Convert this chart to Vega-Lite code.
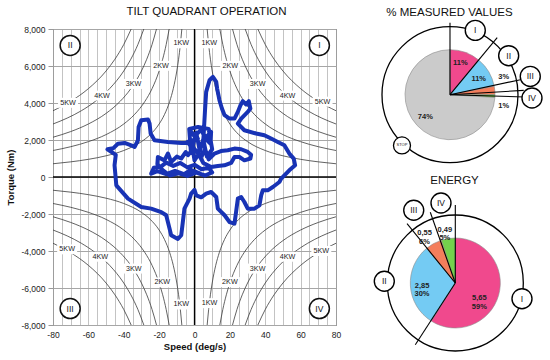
{
  "$schema": "https://vega.github.io/schema/vega-lite/v6.json",
  "background": "white",
  "padding": 5,
  "spacing": 5,
  "config": {
    "view": {"stroke": null},
    "font": "Liberation Sans",
    "title": {"fontSize": 11.5, "fontWeight": "normal", "color": "#111", "font": "Liberation Sans"},
    "axis": {"labelFont": "Liberation Sans", "titleFont": "Liberation Sans", "labelColor": "#222", "titleColor": "#111", "labelOverlap": false, "gridOpacity": 1}
  },
  "datasets": {
    "curves": [
      {"c":"1a","x":7.162,"y":8000},{"c":"1a","x":8,"y":7162},{"c":"1a","x":9,"y":6366},{"c":"1a","x":10,"y":5730},{"c":"1a","x":12,"y":4775},{"c":"1a","x":14,"y":4093},{"c":"1a","x":17,"y":3370},{"c":"1a","x":20,"y":2865},{"c":"1a","x":25,"y":2292},{"c":"1a","x":30,"y":1910},{"c":"1a","x":40,"y":1432},{"c":"1a","x":50,"y":1146},{"c":"1a","x":60,"y":955},{"c":"1a","x":70,"y":819},{"c":"1a","x":80,"y":716},
      {"c":"2a","x":14.32,"y":8000},{"c":"2a","x":16,"y":7162},{"c":"2a","x":18,"y":6366},{"c":"2a","x":20,"y":5730},{"c":"2a","x":24,"y":4775},{"c":"2a","x":28,"y":4093},{"c":"2a","x":34,"y":3370},{"c":"2a","x":40,"y":2865},{"c":"2a","x":50,"y":2292},{"c":"2a","x":60,"y":1910},{"c":"2a","x":70,"y":1637},{"c":"2a","x":80,"y":1432},
      {"c":"3a","x":21.49,"y":8000},{"c":"3a","x":24,"y":7162},{"c":"3a","x":27,"y":6366},{"c":"3a","x":30,"y":5730},{"c":"3a","x":36,"y":4775},{"c":"3a","x":42,"y":4093},{"c":"3a","x":50,"y":3438},{"c":"3a","x":60,"y":2865},{"c":"3a","x":70,"y":2456},{"c":"3a","x":80,"y":2149},
      {"c":"4a","x":28.65,"y":8000},{"c":"4a","x":32,"y":7162},{"c":"4a","x":36,"y":6366},{"c":"4a","x":40,"y":5730},{"c":"4a","x":48,"y":4775},{"c":"4a","x":56,"y":4093},{"c":"4a","x":64,"y":3581},{"c":"4a","x":72,"y":3183},{"c":"4a","x":80,"y":2865},
      {"c":"5a","x":35.81,"y":8000},{"c":"5a","x":40,"y":7162},{"c":"5a","x":45,"y":6366},{"c":"5a","x":50,"y":5730},{"c":"5a","x":60,"y":4775},{"c":"5a","x":70,"y":4093},{"c":"5a","x":80,"y":3581},

      {"c":"1b","x":-7.162,"y":8000},{"c":"1b","x":-8,"y":7162},{"c":"1b","x":-9,"y":6366},{"c":"1b","x":-10,"y":5730},{"c":"1b","x":-12,"y":4775},{"c":"1b","x":-14,"y":4093},{"c":"1b","x":-17,"y":3370},{"c":"1b","x":-20,"y":2865},{"c":"1b","x":-25,"y":2292},{"c":"1b","x":-30,"y":1910},{"c":"1b","x":-40,"y":1432},{"c":"1b","x":-50,"y":1146},{"c":"1b","x":-60,"y":955},{"c":"1b","x":-70,"y":819},{"c":"1b","x":-80,"y":716},
      {"c":"2b","x":-14.32,"y":8000},{"c":"2b","x":-16,"y":7162},{"c":"2b","x":-18,"y":6366},{"c":"2b","x":-20,"y":5730},{"c":"2b","x":-24,"y":4775},{"c":"2b","x":-28,"y":4093},{"c":"2b","x":-34,"y":3370},{"c":"2b","x":-40,"y":2865},{"c":"2b","x":-50,"y":2292},{"c":"2b","x":-60,"y":1910},{"c":"2b","x":-70,"y":1637},{"c":"2b","x":-80,"y":1432},
      {"c":"3b","x":-21.49,"y":8000},{"c":"3b","x":-24,"y":7162},{"c":"3b","x":-27,"y":6366},{"c":"3b","x":-30,"y":5730},{"c":"3b","x":-36,"y":4775},{"c":"3b","x":-42,"y":4093},{"c":"3b","x":-50,"y":3438},{"c":"3b","x":-60,"y":2865},{"c":"3b","x":-70,"y":2456},{"c":"3b","x":-80,"y":2149},
      {"c":"4b","x":-28.65,"y":8000},{"c":"4b","x":-32,"y":7162},{"c":"4b","x":-36,"y":6366},{"c":"4b","x":-40,"y":5730},{"c":"4b","x":-48,"y":4775},{"c":"4b","x":-56,"y":4093},{"c":"4b","x":-64,"y":3581},{"c":"4b","x":-72,"y":3183},{"c":"4b","x":-80,"y":2865},
      {"c":"5b","x":-35.81,"y":8000},{"c":"5b","x":-40,"y":7162},{"c":"5b","x":-45,"y":6366},{"c":"5b","x":-50,"y":5730},{"c":"5b","x":-60,"y":4775},{"c":"5b","x":-70,"y":4093},{"c":"5b","x":-80,"y":3581},

      {"c":"1c","x":-7.162,"y":-8000},{"c":"1c","x":-8,"y":-7162},{"c":"1c","x":-9,"y":-6366},{"c":"1c","x":-10,"y":-5730},{"c":"1c","x":-12,"y":-4775},{"c":"1c","x":-14,"y":-4093},{"c":"1c","x":-17,"y":-3370},{"c":"1c","x":-20,"y":-2865},{"c":"1c","x":-25,"y":-2292},{"c":"1c","x":-30,"y":-1910},{"c":"1c","x":-40,"y":-1432},{"c":"1c","x":-50,"y":-1146},{"c":"1c","x":-60,"y":-955},{"c":"1c","x":-70,"y":-819},{"c":"1c","x":-80,"y":-716},
      {"c":"2c","x":-14.32,"y":-8000},{"c":"2c","x":-16,"y":-7162},{"c":"2c","x":-18,"y":-6366},{"c":"2c","x":-20,"y":-5730},{"c":"2c","x":-24,"y":-4775},{"c":"2c","x":-28,"y":-4093},{"c":"2c","x":-34,"y":-3370},{"c":"2c","x":-40,"y":-2865},{"c":"2c","x":-50,"y":-2292},{"c":"2c","x":-60,"y":-1910},{"c":"2c","x":-70,"y":-1637},{"c":"2c","x":-80,"y":-1432},
      {"c":"3c","x":-21.49,"y":-8000},{"c":"3c","x":-24,"y":-7162},{"c":"3c","x":-27,"y":-6366},{"c":"3c","x":-30,"y":-5730},{"c":"3c","x":-36,"y":-4775},{"c":"3c","x":-42,"y":-4093},{"c":"3c","x":-50,"y":-3438},{"c":"3c","x":-60,"y":-2865},{"c":"3c","x":-70,"y":-2456},{"c":"3c","x":-80,"y":-2149},
      {"c":"4c","x":-28.65,"y":-8000},{"c":"4c","x":-32,"y":-7162},{"c":"4c","x":-36,"y":-6366},{"c":"4c","x":-40,"y":-5730},{"c":"4c","x":-48,"y":-4775},{"c":"4c","x":-56,"y":-4093},{"c":"4c","x":-64,"y":-3581},{"c":"4c","x":-72,"y":-3183},{"c":"4c","x":-80,"y":-2865},
      {"c":"5c","x":-35.81,"y":-8000},{"c":"5c","x":-40,"y":-7162},{"c":"5c","x":-45,"y":-6366},{"c":"5c","x":-50,"y":-5730},{"c":"5c","x":-60,"y":-4775},{"c":"5c","x":-70,"y":-4093},{"c":"5c","x":-80,"y":-3581},

      {"c":"1d","x":7.162,"y":-8000},{"c":"1d","x":8,"y":-7162},{"c":"1d","x":9,"y":-6366},{"c":"1d","x":10,"y":-5730},{"c":"1d","x":12,"y":-4775},{"c":"1d","x":14,"y":-4093},{"c":"1d","x":17,"y":-3370},{"c":"1d","x":20,"y":-2865},{"c":"1d","x":25,"y":-2292},{"c":"1d","x":30,"y":-1910},{"c":"1d","x":40,"y":-1432},{"c":"1d","x":50,"y":-1146},{"c":"1d","x":60,"y":-955},{"c":"1d","x":70,"y":-819},{"c":"1d","x":80,"y":-716},
      {"c":"2d","x":14.32,"y":-8000},{"c":"2d","x":16,"y":-7162},{"c":"2d","x":18,"y":-6366},{"c":"2d","x":20,"y":-5730},{"c":"2d","x":24,"y":-4775},{"c":"2d","x":28,"y":-4093},{"c":"2d","x":34,"y":-3370},{"c":"2d","x":40,"y":-2865},{"c":"2d","x":50,"y":-2292},{"c":"2d","x":60,"y":-1910},{"c":"2d","x":70,"y":-1637},{"c":"2d","x":80,"y":-1432},
      {"c":"3d","x":21.49,"y":-8000},{"c":"3d","x":24,"y":-7162},{"c":"3d","x":27,"y":-6366},{"c":"3d","x":30,"y":-5730},{"c":"3d","x":36,"y":-4775},{"c":"3d","x":42,"y":-4093},{"c":"3d","x":50,"y":-3438},{"c":"3d","x":60,"y":-2865},{"c":"3d","x":70,"y":-2456},{"c":"3d","x":80,"y":-2149},
      {"c":"4d","x":28.65,"y":-8000},{"c":"4d","x":32,"y":-7162},{"c":"4d","x":36,"y":-6366},{"c":"4d","x":40,"y":-5730},{"c":"4d","x":48,"y":-4775},{"c":"4d","x":56,"y":-4093},{"c":"4d","x":64,"y":-3581},{"c":"4d","x":72,"y":-3183},{"c":"4d","x":80,"y":-2865},
      {"c":"5d","x":35.81,"y":-8000},{"c":"5d","x":40,"y":-7162},{"c":"5d","x":45,"y":-6366},{"c":"5d","x":50,"y":-5730},{"c":"5d","x":60,"y":-4775},{"c":"5d","x":70,"y":-4093},{"c":"5d","x":80,"y":-3581}
    ],
    "kwlabels": [
      {"t":"1KW","x":8.4,"y":7230},{"t":"2KW","x":20.2,"y":6010},{"t":"3KW","x":35.7,"y":5030},{"t":"4KW","x":52.6,"y":4400},{"t":"5KW","x":72.4,"y":4070},
      {"t":"1KW","x":-7.5,"y":7230},{"t":"2KW","x":-18.9,"y":6010},{"t":"3KW","x":-34.5,"y":5030},{"t":"4KW","x":-52.3,"y":4400},{"t":"5KW","x":-71.5,"y":4010},
      {"t":"5KW","x":-72,"y":-3910},{"t":"4KW","x":-53.3,"y":-4310},{"t":"3KW","x":-34.3,"y":-4950},{"t":"2KW","x":-18.2,"y":-5700},{"t":"1KW","x":-7.5,"y":-6890},
      {"t":"1KW","x":8.5,"y":-6820},{"t":"2KW","x":20,"y":-5680},{"t":"3KW","x":35.7,"y":-4950},{"t":"4KW","x":52.6,"y":-4310},{"t":"5KW","x":71.7,"y":-4000}
    ],
    "quadrants": [
      {"r":"II","x":-70.3,"y":7110},{"r":"I","x":70.6,"y":7110},{"r":"III","x":-70.3,"y":-7110},{"r":"IV","x":70.6,"y":-7110}
    ],
    "axes0": [
      {"x":0,"y":-8000,"x2":0,"y2":8000},{"x":-80,"y":0,"x2":80,"y2":0}
    ],
    "path": [
      {"i":1,"x":3,"y":200},{"i":2,"x":-2,"y":380},{"i":3,"x":-6,"y":150},{"i":4,"x":-11,"y":330},{"i":5,"x":-16,"y":150},{"i":6,"x":-21,"y":320},{"i":7,"x":-24.5,"y":180},{"i":8,"x":-23,"y":500},{"i":9,"x":-19,"y":560},{"i":10,"x":-16,"y":780},
      {"i":11,"x":-12,"y":600},{"i":12,"x":-8,"y":760},{"i":13,"x":-4,"y":520},{"i":14,"x":0,"y":660},{"i":15,"x":4,"y":420},{"i":16,"x":8,"y":500},{"i":17,"x":10,"y":250},{"i":18,"x":6,"y":80},{"i":19,"x":1,"y":240},{"i":20,"x":-4,"y":60},
      {"i":21,"x":-9,"y":200},{"i":22,"x":-14,"y":80},{"i":23,"x":-18,"y":380},{"i":24,"x":-21,"y":700},{"i":25,"x":-20.7,"y":1080},{"i":26,"x":-17,"y":900},{"i":27,"x":-15,"y":1270},{"i":28,"x":-13.2,"y":810},{"i":29,"x":-10,"y":1100},{"i":30,"x":-7.5,"y":1000},
      {"i":31,"x":-5,"y":1350},{"i":32,"x":-3.7,"y":1180},{"i":33,"x":-1,"y":1500},{"i":34,"x":0,"y":900},{"i":35,"x":2,"y":1200},{"i":36,"x":4,"y":1120},{"i":37,"x":6,"y":1500},{"i":38,"x":8,"y":950},{"i":39,"x":11.3,"y":1270},{"i":40,"x":15,"y":1400},
      {"i":41,"x":18.8,"y":1445},{"i":42,"x":22.6,"y":1535},{"i":43,"x":26.4,"y":1500},{"i":44,"x":30.1,"y":1353},{"i":45,"x":32,"y":1200},{"i":46,"x":31.6,"y":1000},{"i":47,"x":28.2,"y":903},{"i":48,"x":25.4,"y":1082},{"i":49,"x":22.6,"y":1082},{"i":50,"x":20.7,"y":760},
      {"i":51,"x":16.9,"y":630},{"i":52,"x":13.2,"y":595},{"i":53,"x":9.4,"y":540},{"i":54,"x":5,"y":760},{"i":55,"x":2,"y":1300},{"i":56,"x":-1.9,"y":1625},{"i":57,"x":-4,"y":1900},{"i":58,"x":1.9,"y":2078},{"i":59,"x":-2.8,"y":2530},{"i":60,"x":0,"y":2200},
      {"i":61,"x":3.8,"y":2565},{"i":62,"x":6,"y":2100},{"i":63,"x":9.4,"y":2435},{"i":64,"x":9,"y":1800},{"i":65,"x":7,"y":2000},{"i":66,"x":5.6,"y":2256},
      {"i":66.1,"x":3,"y":1400},{"i":66.2,"x":1,"y":2400},{"i":66.3,"x":-2,"y":1300},{"i":66.4,"x":-3,"y":2600},{"i":66.5,"x":2,"y":2700},{"i":66.6,"x":8,"y":2600},{"i":66.7,"x":10,"y":1500},{"i":66.8,"x":7,"y":1100},{"i":66.9,"x":5,"y":2000},
      {"i":67,"x":6,"y":3700},{"i":68,"x":6.6,"y":4600},{"i":69,"x":8.5,"y":5230},{"i":70,"x":10.4,"y":5410},
      {"i":71,"x":12.3,"y":5140},{"i":72,"x":12.8,"y":4780},{"i":73,"x":14.1,"y":4150},{"i":74,"x":15.5,"y":3700},{"i":75,"x":17,"y":3340},{"i":76,"x":19.8,"y":3160},{"i":77,"x":22.6,"y":3160},{"i":78,"x":24.5,"y":3520},{"i":79,"x":26,"y":3880},{"i":80,"x":27.3,"y":4100},
      {"i":81,"x":29.2,"y":3920},{"i":82,"x":30.7,"y":4100},{"i":83,"x":31.6,"y":3700},{"i":84,"x":30.1,"y":3520},{"i":85,"x":26.4,"y":3160},{"i":86,"x":24.5,"y":2890},{"i":87,"x":28.2,"y":2527},{"i":88,"x":34.8,"y":2350},{"i":89,"x":39.5,"y":2256},{"i":90,"x":43.3,"y":2078},
      {"i":91,"x":47.1,"y":1894},{"i":92,"x":50.8,"y":1715},{"i":93,"x":53.6,"y":1266},{"i":94,"x":56.1,"y":995},{"i":95,"x":56.9,"y":633},{"i":96,"x":53.6,"y":362},{"i":97,"x":51.8,"y":184},{"i":98,"x":49,"y":-87},{"i":99,"x":48,"y":-270},{"i":100,"x":44.3,"y":-540},
      {"i":101,"x":41.4,"y":-720},{"i":102,"x":38.6,"y":-720},{"i":103,"x":37.7,"y":-990},{"i":104,"x":36.7,"y":-1530},{"i":105,"x":33.9,"y":-1710},{"i":106,"x":30.1,"y":-1710},{"i":107,"x":28.2,"y":-1350},{"i":108,"x":26.4,"y":-1080},{"i":109,"x":24.5,"y":-1170},{"i":110,"x":23.5,"y":-1895},
      {"i":111,"x":22.6,"y":-2520},{"i":112,"x":19.8,"y":-2435},{"i":113,"x":17,"y":-2070},{"i":114,"x":13.2,"y":-1710},{"i":115,"x":12.3,"y":-1080},{"i":116,"x":9.4,"y":-810},{"i":117,"x":6.6,"y":-900},{"i":118,"x":3.8,"y":-1100},{"i":119,"x":1,"y":-990},{"i":120,"x":0,"y":-700},
      {"i":121,"x":-1.9,"y":-900},{"i":122,"x":-2.8,"y":-1170},{"i":123,"x":-5.7,"y":-1710},{"i":124,"x":-6.6,"y":-2435},{"i":125,"x":-7.5,"y":-3150},{"i":126,"x":-9.4,"y":-3350},{"i":127,"x":-13.2,"y":-3150},{"i":128,"x":-14.1,"y":-2790},{"i":129,"x":-16,"y":-2070},{"i":130,"x":-18.8,"y":-1895},
      {"i":131,"x":-24.5,"y":-1710},{"i":132,"x":-30.1,"y":-1620},{"i":133,"x":-37.6,"y":-1170},{"i":134,"x":-44.2,"y":-450},{"i":135,"x":-45.2,"y":630},{"i":136,"x":-44.5,"y":1200},{"i":137,"x":-49.2,"y":1500},{"i":138,"x":-46,"y":1550},{"i":139,"x":-43.3,"y":1800},{"i":140,"x":-39.5,"y":1840},
      {"i":141,"x":-35.8,"y":1715},{"i":142,"x":-33.9,"y":1620},{"i":143,"x":-32,"y":1985},{"i":144,"x":-31.6,"y":2705},{"i":145,"x":-30.1,"y":3070},{"i":146,"x":-26.3,"y":3105},{"i":147,"x":-25.4,"y":2890},{"i":148,"x":-24.8,"y":2350},{"i":149,"x":-22.6,"y":1985},{"i":150,"x":-15,"y":1895},
      {"i":151,"x":-7.5,"y":1840},{"i":152,"x":-2,"y":1840},{"i":153,"x":0,"y":1500},{"i":154,"x":3,"y":1200}
    ],
    "pie1": [
      {"q":"I","v":11,"o":1},{"q":"II","v":11,"o":2},{"q":"III","v":3,"o":3},{"q":"IV","v":1,"o":4},{"q":"STOP","v":74,"o":5}
    ],
    "pie2": [
      {"q":"I","v":59,"o":1},{"q":"II","v":30,"o":2},{"q":"III","v":6,"o":3},{"q":"IV","v":5,"o":4}
    ]
  },
  "hconcat": [
    {
      "title": {"text": "TILT QUADRANT OPERATION", "offset": 8, "dx": 12},
      "width": 283,
      "height": 296,
      "view": {"stroke": "#444", "strokeWidth": 1},
      "encoding": {
        "x": {
          "field": "x", "type": "quantitative",
          "scale": {"domain": [-80, 80], "nice": false, "zero": false},
          "axis": {
            "values": [-80,-75,-70,-65,-60,-55,-50,-45,-40,-35,-30,-25,-20,-15,-10,-5,0,5,10,15,20,25,30,35,40,45,50,55,60,65,70,75,80],
            "grid": true, "gridColor": "#b4b4b4", "gridWidth": 0.8,
            "ticks": false, "domain": false,
            "labelExpr": "datum.value % 20 === 0 ? (datum.value < 0 ? '-' : '') + format(abs(datum.value), 'd') : ''",
            "labelFlush": false, "labelOverlap": false,
            "labelFontSize": 8.5, "labelPadding": 5,
            "title": "Speed (deg/s)", "titleFontWeight": "bold", "titleFontSize": 9.5, "titlePadding": 3
          }
        },
        "y": {
          "field": "y", "type": "quantitative",
          "scale": {"domain": [-8000, 8000], "nice": false, "zero": false},
          "axis": {
            "values": [-8000,-6000,-4000,-2000,0,2000,4000,6000,8000],
            "grid": true, "gridColor": "#a6a6a6", "gridWidth": 1,
            "tickSize": 5, "tickColor": "#999", "domain": false,
            "labelExpr": "(datum.value < 0 ? '-' : '') + format(abs(datum.value), ',')",
            "labelOverlap": false,
            "labelFontSize": 8.5, "labelPadding": 3,
            "title": "Torque (Nm)", "titleFontWeight": "bold", "titleFontSize": 9.5, "titlePadding": 5
          }
        }
      },
      "layer": [
        {
          "data": {"name": "curves"},
          "mark": {"type": "line", "interpolate": "monotone", "color": "#3a3a3a", "strokeWidth": 0.8},
          "encoding": {"detail": {"field": "c"}}
        },
        {
          "data": {"name": "axes0"},
          "mark": {"type": "rule", "color": "#000", "strokeWidth": 1.3},
          "encoding": {"x2": {"field": "x2"}, "y2": {"field": "y2"}}
        },
        {
          "data": {"name": "kwlabels"},
          "mark": {"type": "point", "shape": "M-1,-0.5L1,-0.5L1,0.5L-1,0.5Z", "size": 400, "filled": true, "fill": "white", "opacity": 1, "strokeWidth": 0},
          "encoding": {}
        },
        {
          "data": {"name": "kwlabels"},
          "mark": {"type": "text", "fontSize": 7.2, "color": "#222", "align": "center", "baseline": "middle"},
          "encoding": {"text": {"field": "t"}}
        },
        {
          "data": {"name": "quadrants"},
          "mark": {"type": "point", "shape": "circle", "size": 400, "filled": true, "fill": "white", "stroke": "#111", "strokeWidth": 1.5, "opacity": 1},
          "encoding": {}
        },
        {
          "data": {"name": "quadrants"},
          "mark": {"type": "text", "fontSize": 8.5, "color": "#111", "align": "center", "baseline": "middle"},
          "encoding": {"text": {"field": "r"}}
        },
        {
          "data": {"name": "path"},
          "mark": {"type": "line", "color": "#1833b5", "strokeWidth": 4, "strokeJoin": "round", "strokeCap": "round"},
          "encoding": {"order": {"field": "i"}}
        }
      ]
    },
    {
      "vconcat": [
        {
          "title": {"text": "% MEASURED VALUES", "offset": -1, "frame": "group"},
          "width": 205,
          "height": 140,
          "layer": [
            {
              "data": {"name": "pie1"},
              "mark": {"type": "arc", "outerRadius": 45, "stroke": "#8a8a8a", "strokeWidth": 0.6},
              "encoding": {
                "x": {"datum": 0, "type": "quantitative", "scale": {"domain": [-2.289, 2.267], "nice": false, "zero": false}, "axis": null},
                "y": {"datum": 0, "type": "quantitative", "scale": {"domain": [-1.651, 1.46], "nice": false, "zero": false}, "axis": null},
                "theta": {"field": "v", "type": "quantitative", "stack": true},
                "order": {"field": "o"},
                "color": {"field": "q", "type": "nominal", "scale": {"domain": ["I","II","III","IV","STOP"], "range": ["#f0498d","#74cbf3","#f47e5c","#74d14c","#cbcbcb"]}, "legend": null}
              }
            },
            {
              "data": {"values": [{"x": 0, "y": 0}]},
              "mark": {"type": "point", "shape": "circle", "size": 18496, "filled": false, "stroke": "#000", "strokeWidth": 1.3, "opacity": 1},
              "encoding": {"x": {"field": "x", "type": "quantitative"}, "y": {"field": "y", "type": "quantitative"}}
            },
            {
              "data": {"values": [
                {"x": 0, "y": 0, "x2": 0, "y2": 1.6},
                {"x": 0, "y": 0, "x2": 1.049, "y2": 1.267},
                {"x": 0, "y": 0, "x2": 1.565, "y2": 0.333},
                {"x": 0, "y": 0, "x2": 1.638, "y2": 0.096},
                {"x": 0, "y": 0, "x2": 1.667, "y2": -0.051}
              ]},
              "mark": {"type": "rule", "color": "#000", "strokeWidth": 1.1},
              "encoding": {"x": {"field": "x", "type": "quantitative"}, "y": {"field": "y", "type": "quantitative"}, "x2": {"field": "x2"}, "y2": {"field": "y2"}}
            },
            {
              "data": {"values": [
                {"t": "I", "x": 0.562, "y": 1.429},
                {"t": "II", "x": 1.304, "y": 0.867},
                {"t": "III", "x": 1.784, "y": 0.407},
                {"t": "IV", "x": 1.822, "y": -0.073}
              ]},
              "layer": [
                {"mark": {"type": "point", "shape": "circle", "size": 400, "filled": true, "fill": "white", "stroke": "#000", "strokeWidth": 1.4, "opacity": 1},
                 "encoding": {"x": {"field": "x", "type": "quantitative"}, "y": {"field": "y", "type": "quantitative"}}},
                {"mark": {"type": "text", "fontSize": 8.5, "color": "#111", "align": "center", "baseline": "middle"},
                 "encoding": {"x": {"field": "x", "type": "quantitative"}, "y": {"field": "y", "type": "quantitative"}, "text": {"field": "t"}}}
              ]
            },
            {
              "data": {"values": [{"t": "STOP", "x": -1.067, "y": -1.127}]},
              "layer": [
                {"mark": {"type": "point", "shape": "circle", "size": 289, "filled": true, "fill": "white", "stroke": "#000", "strokeWidth": 1.3, "opacity": 1},
                 "encoding": {"x": {"field": "x", "type": "quantitative"}, "y": {"field": "y", "type": "quantitative"}}},
                {"mark": {"type": "text", "fontSize": 4, "color": "#111", "align": "center", "baseline": "middle"},
                 "encoding": {"x": {"field": "x", "type": "quantitative"}, "y": {"field": "y", "type": "quantitative"}, "text": {"field": "t"}}}
              ]
            },
            {
              "data": {"values": [
                {"t": "11%", "x": 0.229, "y": 0.704},
                {"t": "11%", "x": 0.638, "y": 0.356},
                {"t": "3%", "x": 1.193, "y": 0.393},
                {"t": "1%", "x": 1.193, "y": -0.26},
                {"t": "74%", "x": -0.549, "y": -0.496}
              ]},
              "mark": {"type": "text", "fontSize": 7.5, "fontWeight": "bold", "color": "#222", "align": "center", "baseline": "middle"},
              "encoding": {"x": {"field": "x", "type": "quantitative"}, "y": {"field": "y", "type": "quantitative"}, "text": {"field": "t"}}
            }
          ]
        },
        {
          "title": {"text": "ENERGY", "offset": 4, "dx": 5, "frame": "group"},
          "width": 205,
          "height": 165,
          "layer": [
            {
              "data": {"name": "pie2"},
              "mark": {"type": "arc", "outerRadius": 45, "stroke": "#8a8a8a", "strokeWidth": 0.6},
              "encoding": {
                "x": {"datum": 0, "type": "quantitative", "scale": {"domain": [-2.407, 2.149], "nice": false, "zero": false}, "axis": null},
                "y": {"datum": 0, "type": "quantitative", "scale": {"domain": [-1.667, 2.0], "nice": false, "zero": false}, "axis": null},
                "theta": {"field": "v", "type": "quantitative", "stack": true},
                "order": {"field": "o"},
                "color": {"field": "q", "type": "nominal", "scale": {"domain": ["I","II","III","IV"], "range": ["#f0498d","#74cbf3","#f47e5c","#74d14c"]}, "legend": null}
              }
            },
            {
              "data": {"values": [{"x": 0, "y": 0}]},
              "mark": {"type": "point", "shape": "circle", "size": 18496, "filled": false, "stroke": "#000", "strokeWidth": 1.3, "opacity": 1},
              "encoding": {"x": {"field": "x", "type": "quantitative"}, "y": {"field": "y", "type": "quantitative"}}
            },
            {
              "data": {"values": [
                {"x": 0, "y": 0, "x2": 0, "y2": 1.733},
                {"x": 0, "y": 0, "x2": -0.889, "y2": -1.371},
                {"x": 0, "y": 0, "x2": -1.073, "y2": 1.318},
                {"x": 0, "y": 0, "x2": -0.556, "y2": 1.571}
              ]},
              "mark": {"type": "rule", "color": "#000", "strokeWidth": 1.1},
              "encoding": {"x": {"field": "x", "type": "quantitative"}, "y": {"field": "y", "type": "quantitative"}, "x2": {"field": "x2"}, "y2": {"field": "y2"}}
            },
            {
              "data": {"values": [
                {"t": "III", "x": -0.924, "y": 1.616},
                {"t": "IV", "x": -0.318, "y": 1.778},
                {"t": "II", "x": -1.578, "y": 0.038},
                {"t": "I", "x": 1.482, "y": -0.349}
              ]},
              "layer": [
                {"mark": {"type": "point", "shape": "circle", "size": 400, "filled": true, "fill": "white", "stroke": "#000", "strokeWidth": 1.4, "opacity": 1},
                 "encoding": {"x": {"field": "x", "type": "quantitative"}, "y": {"field": "y", "type": "quantitative"}}},
                {"mark": {"type": "text", "fontSize": 8.5, "color": "#111", "align": "center", "baseline": "middle"},
                 "encoding": {"x": {"field": "x", "type": "quantitative"}, "y": {"field": "y", "type": "quantitative"}, "text": {"field": "t"}}}
              ]
            },
            {
              "data": {"values": [
                {"t": "5,65\n59%", "x": 0.533, "y": -0.344},
                {"t": "2,85\n30%", "x": -0.74, "y": -0.056},
                {"t": "0,55\n6%", "x": -0.684, "y": 1.1},
                {"t": "0,49\n5%", "x": -0.233, "y": 1.184}
              ]},
              "mark": {"type": "text", "fontSize": 7.5, "fontWeight": "bold", "color": "#222", "align": "center", "baseline": "middle", "lineBreak": "\n", "lineHeight": 8.5},
              "encoding": {"x": {"field": "x", "type": "quantitative"}, "y": {"field": "y", "type": "quantitative"}, "text": {"field": "t"}}
            }
          ]
        }
      ],
      "spacing": 5
    }
  ]
}
